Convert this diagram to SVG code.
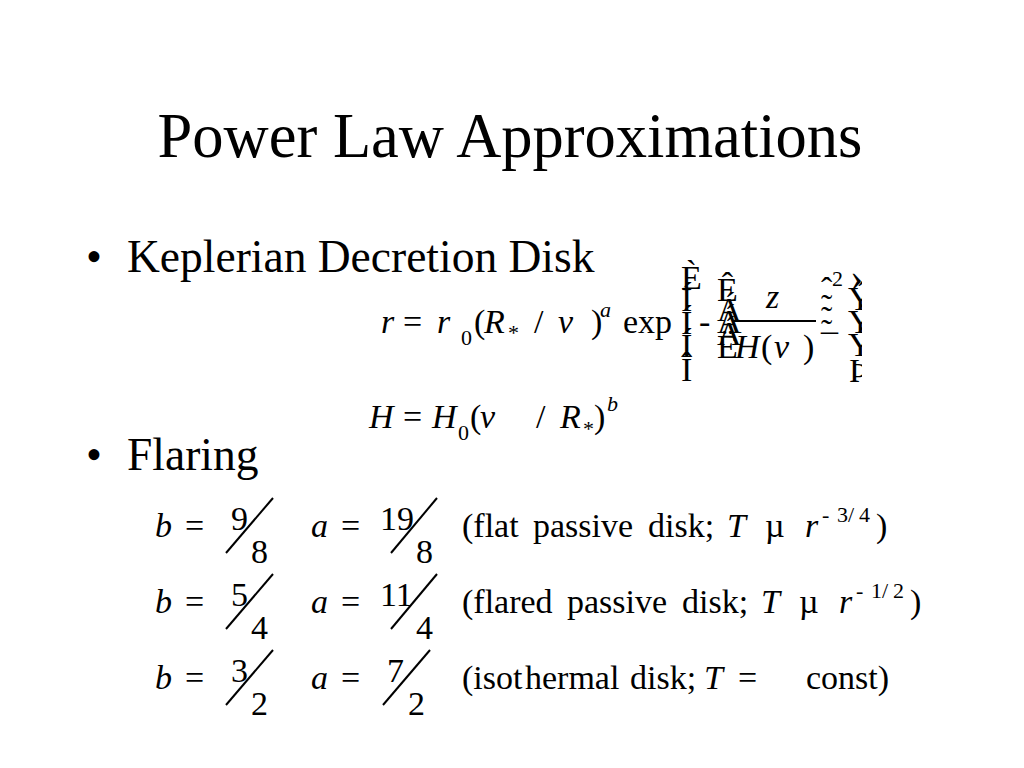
<svg xmlns="http://www.w3.org/2000/svg" width="1024" height="768" viewBox="0 0 1024 768">
<style>
text{font-family:"Liberation Serif","Times New Roman",serif;fill:#000}
.title{font-size:62.5px}
.bul{font-size:45.5px}
.m{font-size:34px}
.i{font-style:italic}
.s{font-size:22px}
.ss{font-size:22px}
.ln{stroke:#000;stroke-width:2;fill:none}
</style>
<defs>
<clipPath id="rb"><rect x="840" y="255" width="22" height="140"/></clipPath>
</defs>
<rect width="1024" height="768" fill="#fff"/>
<g id="title"><text class="title" x="510" y="157" text-anchor="middle">Power Law Approximations</text></g>
<g id="bullet1">
<text class="bul" x="86" y="272">•</text>
<text class="bul" x="127" y="272">Keplerian Decretion Disk</text>
</g>
<g id="bullet2">
<text class="bul" x="86" y="470">•</text>
<text class="bul" x="127" y="470">Flaring</text>
</g>
<g id="eq1">
<text class="m i" x="381" y="333">r</text>
<text class="m" x="403" y="333">=</text>
<text class="m i" x="437" y="333">r</text>
<text class="s" x="461" y="345">0</text>
<text class="m" x="474" y="333">(</text>
<text class="m i" x="484" y="333">R</text>
<text class="s" x="508" y="340">*</text>
<text class="m" x="534" y="333">/</text>
<text class="m i" x="558" y="333">v</text>
<text class="m" x="591" y="333">)</text>
<text class="s i" x="600" y="317">a</text>
<text class="m" x="623" y="333">exp</text>
<text class="m" x="681" y="289">È</text>
<text class="m" x="681" y="311">Í</text>
<text class="m" x="681" y="334">Í</text>
<text class="m" x="681" y="357">Í</text>
<text class="m" x="681" y="381">Î</text>
<text class="m" x="699" y="333">-</text>
<text class="m" x="717" y="301">Ê</text>
<text class="m" x="717" y="321">Á</text>
<text class="m" x="717" y="333">Á</text>
<text class="m" x="717" y="345">Á</text>
<text class="m" x="717" y="358">Ë</text>
<text class="m i" x="766" y="308">z</text>
<line class="ln" x1="733" y1="321" x2="816" y2="321" stroke-width="1.6"/>
<text class="m i" x="735" y="358">H</text>
<text class="m" x="761" y="358">(</text>
<text class="m i" x="774" y="358">v</text>
<text class="m" x="803" y="358">)</text>
<text class="m" x="821" y="301">ˆ</text>
<text class="m" x="821" y="318">˜</text>
<text class="m" x="821" y="330">˜</text>
<text class="m" x="821" y="343">˜</text>
<text class="m" x="821" y="358">¯</text>
<text class="ss" x="832" y="286">2</text>
<g clip-path="url(#rb)">
<text class="m" x="850" y="290" style="font-size:40px">›</text>
<text class="m" x="848" y="310">Ý</text>
<text class="m" x="848" y="333">Ý</text>
<text class="m" x="848" y="356">Ý</text>
<text class="m" x="849" y="382">Þ</text>
</g>
</g>
<g id="eq2">
<text class="m i" x="369" y="428">H</text>
<text class="m" x="403" y="428">=</text>
<text class="m i" x="432" y="428">H</text>
<text class="s" x="458" y="440">0</text>
<text class="m" x="470" y="428">(</text>
<text class="m i" x="480" y="428">v</text>
<text class="m" x="536" y="428">/</text>
<text class="m i" x="560" y="428">R</text>
<text class="s" x="583" y="436">*</text>
<text class="m" x="594" y="428">)</text>
<text class="s i" x="607" y="411">b</text>
</g>
<g id="row1">
<text class="m i" x="155" y="537">b</text>
<text class="m" x="185" y="537">=</text>
<text class="m" x="231" y="530">9</text>
<line class="ln" x1="226" y1="553" x2="273" y2="498"/>
<text class="m" x="251" y="563">8</text>
<text class="m i" x="311" y="537">a</text>
<text class="m" x="341" y="537">=</text>
<text class="m" x="380" y="530">19</text>
<line class="ln" x1="391" y1="553" x2="437" y2="498"/>
<text class="m" x="416" y="563">8</text>
<text class="m" x="462" y="537">(flat</text>
<text class="m" x="533" y="537">passive</text>
<text class="m" x="648" y="537">disk;</text>
<text class="m i" x="727" y="537">T</text>
<text class="m" x="765" y="537">µ</text>
<text class="m i" x="805" y="537">r</text>
<text class="ss" x="822" y="522">-</text>
<text class="ss" x="837" y="522">3/</text>
<text class="ss" x="859" y="522">4</text>
<text class="m" x="876" y="537">)</text>
</g>
<g id="row2">
<text class="m i" x="155" y="613">b</text>
<text class="m" x="185" y="613">=</text>
<text class="m" x="231" y="606">5</text>
<line class="ln" x1="226" y1="629" x2="273" y2="574"/>
<text class="m" x="251" y="639">4</text>
<text class="m i" x="311" y="613">a</text>
<text class="m" x="341" y="613">=</text>
<text class="m" x="380" y="606">11</text>
<line class="ln" x1="391" y1="629" x2="437" y2="574"/>
<text class="m" x="416" y="639">4</text>
<text class="m" x="462" y="613">(flared</text>
<text class="m" x="567" y="613">passive</text>
<text class="m" x="682" y="613">disk;</text>
<text class="m i" x="761" y="613">T</text>
<text class="m" x="799" y="613">µ</text>
<text class="m i" x="839" y="613">r</text>
<text class="ss" x="856" y="598">-</text>
<text class="ss" x="871" y="598">1/</text>
<text class="ss" x="893" y="598">2</text>
<text class="m" x="910" y="613">)</text>
</g>
<g id="row3">
<text class="m i" x="155" y="689">b</text>
<text class="m" x="185" y="689">=</text>
<text class="m" x="231" y="682">3</text>
<line class="ln" x1="226" y1="705" x2="273" y2="650"/>
<text class="m" x="251" y="715">2</text>
<text class="m i" x="311" y="689">a</text>
<text class="m" x="341" y="689">=</text>
<text class="m" x="387" y="682">7</text>
<line class="ln" x1="383" y1="705" x2="430" y2="650"/>
<text class="m" x="408" y="715">2</text>
<text class="m" x="462" y="689">(isot</text>
<text class="m" x="525" y="689">hermal</text>
<text class="m" x="630" y="689">disk;</text>
<text class="m i" x="704" y="689">T</text>
<text class="m" x="738" y="689">=</text>
<text class="m" x="806" y="689">const)</text>
</g>
</svg>
